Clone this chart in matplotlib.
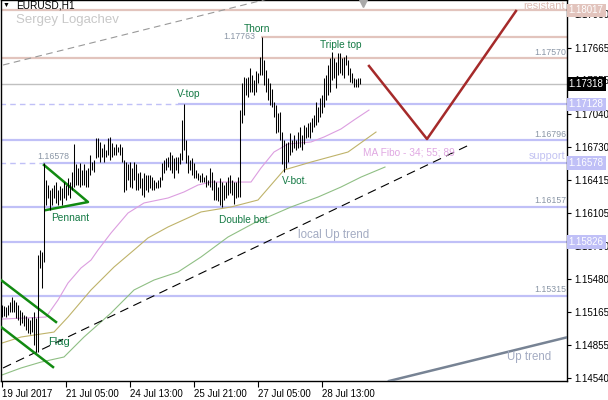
import matplotlib.pyplot as plt
import matplotlib.transforms as mtransforms

plt.rcParams['font.family'] = ['Liberation Sans', 'DejaVu Sans']

# EURUSD H1 bars (high / low), one per hour
highs = [1.1523, 1.1522, 1.1521, 1.1523, 1.1526, 1.1531, 1.1528, 1.1526, 1.1523, 1.1518,
         1.1516, 1.1514, 1.1513, 1.1511, 1.1509, 1.1512, 1.1516, 1.1511, 1.1570, 1.1575,
         1.1573, 1.16578, 1.1641, 1.1637, 1.1632, 1.1634, 1.1637, 1.1639, 1.1632, 1.1636,
         1.1634, 1.1639, 1.1637, 1.1643, 1.1639, 1.1649, 1.1675, 1.1656, 1.1653, 1.1657,
         1.1651, 1.1656, 1.1651, 1.1653, 1.1665, 1.1658, 1.1660, 1.1681, 1.1681, 1.1677,
         1.1672, 1.1675, 1.1670, 1.1681, 1.1682, 1.1676, 1.1673, 1.1675, 1.1673, 1.1675,
         1.1673, 1.1660, 1.1658, 1.1656, 1.1658, 1.1653, 1.1658, 1.1656, 1.1648, 1.1649,
         1.1643, 1.1648, 1.1646, 1.1646, 1.1646, 1.1644, 1.1641, 1.1639, 1.1641, 1.1644,
         1.1657, 1.1660, 1.1662, 1.1663, 1.1668, 1.1665, 1.1662, 1.1663, 1.1663, 1.1667,
         1.1698, 1.17128, 1.1679, 1.1665, 1.1660, 1.1662, 1.1657, 1.1651, 1.1648, 1.1646,
         1.1648, 1.1644, 1.1646, 1.1641, 1.1653, 1.1649, 1.1641, 1.1639, 1.1635, 1.1643,
         1.1639, 1.1637, 1.1639, 1.1644, 1.1646, 1.1641, 1.1639, 1.1639, 1.1644, 1.1708,
         1.1733, 1.1739, 1.1738, 1.1739, 1.1747, 1.1741, 1.1736, 1.1744, 1.1743, 1.1758,
         1.17763, 1.1755, 1.1745, 1.1738, 1.1733, 1.1727, 1.1715, 1.1712, 1.1705, 1.1706,
         1.1687, 1.1679, 1.1676, 1.1677, 1.1686, 1.1679, 1.1684, 1.1679, 1.1687, 1.1691,
         1.1684, 1.1693, 1.1691, 1.1695, 1.1696, 1.1700, 1.1703, 1.1715, 1.1710, 1.1719,
         1.1722, 1.1738, 1.1741, 1.1750, 1.1757, 1.1762, 1.1757, 1.1753, 1.1761, 1.1761,
         1.1757, 1.1758, 1.1760, 1.1755, 1.1747, 1.1743, 1.1738, 1.1737, 1.1738, 1.1738]
lows = [1.1512, 1.1513, 1.1512, 1.1514, 1.1516, 1.1516, 1.1516, 1.1511, 1.1509, 1.1504,
        1.1506, 1.1503, 1.1499, 1.1497, 1.1496, 1.1498, 1.1485, 1.1479, 1.1479, 1.1558,
        1.1539, 1.1564, 1.1618, 1.1624, 1.1613, 1.1618, 1.1624, 1.1620, 1.1618, 1.1622,
        1.1618, 1.1624, 1.1622, 1.1627, 1.1624, 1.1632, 1.1635, 1.1637, 1.1637, 1.1635,
        1.1637, 1.1637, 1.1635, 1.1635, 1.1646, 1.1651, 1.1649, 1.1662, 1.1663, 1.1658,
        1.1663, 1.1658, 1.1663, 1.1665, 1.1660, 1.1663, 1.1665, 1.1665, 1.1668, 1.1665,
        1.1658, 1.1630, 1.1632, 1.1641, 1.1635, 1.1634, 1.1641, 1.1632, 1.1632, 1.1634,
        1.1627, 1.1625, 1.1632, 1.1630, 1.1634, 1.1632, 1.1632, 1.1634, 1.1634, 1.1635,
        1.1641, 1.1648, 1.1651, 1.1654, 1.1651, 1.1648, 1.1643, 1.1651, 1.1648, 1.1656,
        1.1660, 1.1670, 1.1657, 1.1648, 1.1651, 1.1646, 1.1643, 1.1643, 1.1641, 1.1639,
        1.1639, 1.1639, 1.1635, 1.1637, 1.1635, 1.1632, 1.1622, 1.1622, 1.1621, 1.1618,
        1.16157, 1.1622, 1.1624, 1.1627, 1.1629, 1.1627, 1.1619, 1.1624, 1.1625, 1.1625,
        1.1695, 1.1703, 1.1722, 1.1720, 1.1725, 1.1725, 1.1722, 1.1725, 1.1733, 1.1741,
        1.1741, 1.1731, 1.1725, 1.1717, 1.1712, 1.1710, 1.1701, 1.1686, 1.1687, 1.1679,
        1.1656, 1.1649, 1.1653, 1.1658, 1.1665, 1.1668, 1.1672, 1.1670, 1.1672, 1.1673,
        1.1670, 1.1675, 1.1681, 1.1682, 1.1681, 1.1687, 1.1691, 1.1693, 1.1696, 1.1701,
        1.1705, 1.1710, 1.1717, 1.1722, 1.1725, 1.1736, 1.1738, 1.1728, 1.1741, 1.1743,
        1.1741, 1.1738, 1.1750, 1.1741, 1.1734, 1.1733, 1.1729, 1.1729, 1.1729, 1.17318]

# MA Fibo 34 / 55 / 89 (bar index, price)
ma34_x = [0, 22, 28, 33, 39.5, 44.5, 48, 54.5, 63, 71, 83, 91, 98, 104.5, 124.5, 129.5,
          136, 143, 154.5, 161, 169.5, 176, 183.5]
ma34_y = [1.15098, 1.15117, 1.15278, 1.15439, 1.15581, 1.15656, 1.15751, 1.15912, 1.16101,
          1.16196, 1.16243, 1.16300, 1.16366, 1.16394, 1.16394, 1.16527, 1.16678, 1.16754,
          1.16773, 1.16820, 1.16896, 1.16981, 1.17075]
ma55_x = [0, 9.5, 26, 33, 44.5, 56, 66, 73, 83, 99.5, 114.5, 128, 141, 154.5, 173, 187]
ma55_y = [1.14871, 1.14928, 1.14975, 1.15117, 1.15373, 1.15590, 1.15751, 1.15865, 1.15969,
          1.16111, 1.16158, 1.16224, 1.16508, 1.16583, 1.16678, 1.16867]
ma89_x = [0, 9.5, 19.5, 31, 41, 54.5, 66, 76, 88, 99.5, 113, 126, 144.5, 158, 169.5, 179.5, 191.5]
ma89_y = [1.14569, 1.14635, 1.14691, 1.14739, 1.14928, 1.15155, 1.15373, 1.15467, 1.15543,
          1.15685, 1.15874, 1.16006, 1.16158, 1.16252, 1.16347, 1.16441, 1.16536]

# horizontal levels
res_levels = [1.18017, 1.17570]
thorn_level = 1.17763
sup_levels = [1.17128, 1.16796, 1.16578, 1.16157, 1.15826, 1.15315]
last_price = 1.17318

tick_pos = [0, 32, 64, 96, 128, 160]
tick_text = ['19 Jul 2017', '21 Jul 05:00', '24 Jul 13:00', '25 Jul 21:00',
             '27 Jul 05:00', '28 Jul 13:00']
y_ticks = [1.14540, 1.14855, 1.15165, 1.15480, 1.15790, 1.16105, 1.16415, 1.16730,
           1.17040, 1.17355, 1.17665, 1.17980]

SALMON = '#e2c4bd'
LBLUE = '#c0c0f7'
LABEL = '#157a45'
GREYTXT = '#8a96a6'

fig = plt.figure(figsize=(6.08, 4.0), dpi=100)
ax = fig.add_axes([1 / 608, 19 / 400, 566 / 608, 381 / 400])
ax.set_xlim(-0.5, 282.5)
ax.set_ylim(1.14512, 1.18116)

# levels
for lv in res_levels:
    ax.axhline(lv, color=SALMON, lw=1.6, zorder=1)
ax.hlines(thorn_level, 129.5, 283, color=SALMON, lw=1.6, zorder=1)
ax.axhline(last_price, color='#c0c0c0', lw=1, zorder=1)
for lv in sup_levels:
    if lv == 1.17128:
        ax.hlines(lv, -1, 88, color=LBLUE, lw=1, ls=(0, (4, 3)), zorder=1)
        ax.hlines(lv, 88, 283, color=LBLUE, lw=1.6, zorder=1)
    elif lv == 1.16578:
        ax.hlines(lv, -1, 20.5, color=LBLUE, lw=1, ls=(0, (4, 3)), zorder=1)
        ax.hlines(lv, 20.5, 283, color=LBLUE, lw=1.6, zorder=1)
    else:
        ax.axhline(lv, color=LBLUE, lw=1.6, zorder=1)

# moving averages
ax.plot(ma34_x, ma34_y, color='#dc9ee0', lw=0.8, zorder=2)
ax.plot(ma55_x, ma55_y, color='#bfb36a', lw=0.8, zorder=2)
ax.plot(ma89_x, ma89_y, color='#8fbf84', lw=0.8, zorder=2)

# trend lines
ax.plot([0.5, 233.5], [1.14635, 1.16744], color='black', lw=0.8, ls=(0, (8, 5)), zorder=3)
ax.plot([0.5, 140], [1.17501, 1.18160], color='#999999', lw=0.8, ls=(0, (6, 4)), zorder=3)
ax.plot([193.5, 290], [1.14512, 1.14960], color='#778394', lw=1.8, zorder=3)

# flag and pennant
ax.plot([-0.5, 27], [1.15467, 1.15070], color='#118a11', lw=1.8, zorder=4)
ax.plot([-0.5, 25.5], [1.15023, 1.14644], color='#118a11', lw=1.8, zorder=4)
ax.plot([21, 43, 22], [1.16555, 1.16205, 1.16129], color='#118a11', lw=1.8, zorder=4)

# price bars
ax.vlines(range(len(highs)), lows, highs, color='black', lw=0.75, zorder=5)

# forecast
ax.plot([183.5, 212.5, 257], [1.17492, 1.16801, 1.18012], color='#a52a2a', lw=1.8, zorder=4)
ax.plot([180.5], [1.18088], marker='v', color='#a8a8a8', ms=6, clip_on=False, zorder=6)

# pattern labels
fs = 7.3
ax.text(121, 1.17842, 'Thorn', color=LABEL, fontsize=fs, va='center')
ax.text(110.5, 1.17775, '1.17763', color=GREYTXT, fontsize=6.3, va='center')
ax.text(159, 1.17690, 'Triple top', color=LABEL, fontsize=fs, va='center')
ax.text(87.5, 1.17227, 'V-top', color=LABEL, fontsize=fs, va='center')
ax.text(17.5, 1.16640, '1.16578', color=GREYTXT, fontsize=6.3, va='center')
ax.text(24.5, 1.16054, 'Pennant', color=LABEL, fontsize=fs, va='center')
ax.text(108.5, 1.16035, 'Double bot.', color=LABEL, fontsize=fs, va='center')
ax.text(140, 1.16404, 'V-bot.', color=LABEL, fontsize=fs, va='center')
ax.text(23, 1.14881, 'Flag', color=LABEL, fontsize=8, va='center')
ax.text(148, 1.15893, 'local Up trend', color='#a3abc2', fontsize=8.3, va='center')
ax.text(180.5, 1.16669, 'MA Fibo - 34; 55; 89', color='#e0a8e2', fontsize=7.3, va='center')
ax.text(252.5, 1.14739, 'Up trend', color='#a3abc2', fontsize=8.3, va='center')
ax.text(281.5, 1.18062, 'resistant', color='#dcbcb4', fontsize=7.8, va='center', ha='right')
ax.text(281.5, 1.16640, 'support', color='#c2c2f2', fontsize=7.8, va='center', ha='right')
for lv, yy in [(1.17570, 1.17624), (1.16796, 1.16848), (1.16157, 1.16215), (1.15315, 1.15373)]:
    ax.text(282, yy, '%.5f' % lv, color=GREYTXT, fontsize=6.3, va='center', ha='right')

fig.text(16 / 608, 1 - 20 / 400, 'Sergey Logachev', color='#c8c8c8', fontsize=9.5, va='center')
fig.text(3 / 608, 1 - 5 / 400, '\u25bc', color='black', fontsize=5, va='center')
fig.text(16 / 608, 1 - 5 / 400, 'EURUSD,H1', color='black', fontsize=7.3, va='center')

# axes
ax.yaxis.tick_right()
ax.set_yticks(y_ticks)
ax.set_yticklabels(['%.5f' % v for v in y_ticks], fontsize=7)
ax.tick_params(axis='y', length=3, width=0.8, pad=2, colors='black')
ax.set_xticks(tick_pos)
ax.set_xticklabels(tick_text, fontsize=7, ha='left')
ax.tick_params(axis='x', length=4, width=0.8, pad=2)
for sp in ax.spines.values():
    sp.set_color('black')
    sp.set_linewidth(1)

# price boxes on the right scale
trans = mtransforms.blended_transform_factory(ax.transAxes, ax.transData)
for lv, fc in [(1.18017, SALMON), (1.17318, 'black'), (1.17128, LBLUE),
               (1.16578, LBLUE), (1.15826, LBLUE)]:
    ax.text(1.003, lv, '%.5f' % lv, transform=trans, color='white', fontsize=7,
            va='center', ha='left', clip_on=False, zorder=10,
            bbox=dict(boxstyle='square,pad=0.2', fc=fc, ec='none'))

plt.savefig('out.png', dpi=100)
